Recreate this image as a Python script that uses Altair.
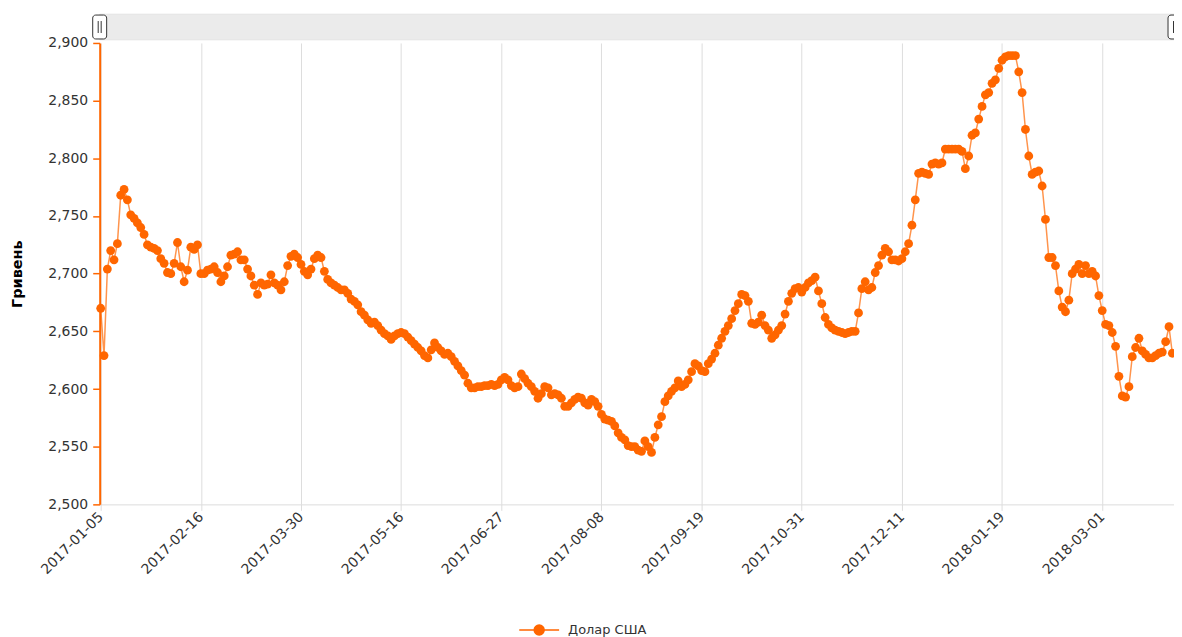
import json
import altair as alt
import pandas as pd

# ---------------- data ----------------
series_name = "Долар США"
y_title = "Гривень"
tick_step = 30
x_tick_labels = ["2017-01-05", "2017-02-16", "2017-03-30", "2017-05-16", "2017-06-27",
                 "2017-08-08", "2017-09-19", "2017-10-31", "2017-12-11", "2018-01-19",
                 "2018-03-01"]
y_ticks = [2.50, 2.55, 2.60, 2.65, 2.70, 2.75, 2.80, 2.85, 2.90]

usd_part1 = [2.670, 2.629, 2.704, 2.720, 2.712, 2.726, 2.768, 2.773, 2.764, 2.751,
             2.748, 2.744, 2.740, 2.734, 2.725, 2.723, 2.722, 2.720, 2.713, 2.709,
             2.701, 2.700, 2.709, 2.727, 2.706, 2.693, 2.703, 2.723, 2.721, 2.725]
usd_part2 = [2.700, 2.700, 2.703, 2.704, 2.706, 2.701, 2.693, 2.698, 2.706, 2.716,
             2.717, 2.719, 2.712, 2.712, 2.704, 2.698, 2.690, 2.682, 2.692, 2.690,
             2.691, 2.699, 2.692, 2.690, 2.686, 2.693, 2.707, 2.715, 2.717, 2.714,
             2.708]
usd_part3 = [2.702, 2.699, 2.704, 2.713, 2.716, 2.714, 2.702, 2.695, 2.692, 2.690,
             2.688, 2.686, 2.686, 2.683, 2.678, 2.676, 2.673, 2.667, 2.664, 2.660,
             2.657]
usd_part4 = [2.658, 2.655, 2.651, 2.648, 2.646, 2.643, 2.646, 2.648, 2.649, 2.648,
             2.645, 2.642, 2.639, 2.636, 2.633, 2.629, 2.627, 2.634, 2.640, 2.636,
             2.633, 2.630, 2.631, 2.628, 2.624, 2.620, 2.616, 2.612, 2.605, 2.601,
             2.601, 2.602, 2.602, 2.603, 2.603, 2.604, 2.603, 2.604, 2.608, 2.610,
             2.608, 2.603, 2.601]
usd_part5 = [2.602, 2.613, 2.609, 2.605, 2.602, 2.598, 2.592, 2.596, 2.602, 2.601,
             2.595, 2.596, 2.595, 2.592, 2.585, 2.585, 2.588, 2.591, 2.593, 2.592,
             2.588, 2.586, 2.591, 2.589, 2.585, 2.578, 2.574, 2.573, 2.572, 2.568,
             2.562, 2.558, 2.556, 2.551, 2.550, 2.550, 2.547, 2.546, 2.555, 2.550,
             2.545, 2.558, 2.569]
usd_part6 = [2.576, 2.589, 2.594, 2.598, 2.601, 2.607, 2.602, 2.604, 2.608, 2.615,
             2.622, 2.620, 2.616, 2.615, 2.622, 2.626, 2.631, 2.638, 2.644, 2.650,
             2.655, 2.661, 2.668, 2.674, 2.682, 2.681, 2.676, 2.657, 2.656, 2.658,
             2.664, 2.655, 2.651, 2.644, 2.647, 2.651, 2.655, 2.665, 2.676, 2.683,
             2.687]
usd_part7 = [2.688, 2.684, 2.688, 2.692, 2.694, 2.697, 2.685, 2.674, 2.662, 2.656,
             2.653, 2.651, 2.650, 2.649, 2.648, 2.649, 2.650, 2.650, 2.666, 2.687,
             2.693, 2.686, 2.688, 2.701, 2.707, 2.716, 2.722, 2.719, 2.712, 2.712,
             2.711, 2.713, 2.719, 2.726, 2.742, 2.764]
usd_part8 = [2.787, 2.788, 2.787, 2.786, 2.795, 2.796, 2.795, 2.796, 2.808, 2.808,
             2.808, 2.808, 2.808, 2.806, 2.791, 2.802, 2.820, 2.822, 2.834, 2.845,
             2.855, 2.857, 2.865, 2.868, 2.878, 2.885, 2.888, 2.889, 2.889, 2.889,
             2.875, 2.857, 2.825, 2.802, 2.786, 2.788, 2.789, 2.776, 2.747, 2.714,
             2.714, 2.707, 2.685, 2.671, 2.667, 2.677, 2.700, 2.704, 2.708, 2.700,
             2.707, 2.700, 2.702, 2.698, 2.681, 2.668, 2.656, 2.655, 2.649, 2.637,
             2.611, 2.594, 2.593, 2.602, 2.628, 2.636, 2.644, 2.633, 2.630, 2.627,
             2.627, 2.629, 2.631, 2.632, 2.641, 2.654, 2.631]

usd = (usd_part1 + usd_part2 + usd_part3 + usd_part4 + usd_part5 +
       usd_part6 + usd_part7 + usd_part8)

df = pd.DataFrame({
    "idx": list(range(len(usd))),
    "rate": usd,
    "series": [series_name] * len(usd),
})

# ---------------- style ----------------
ORANGE = "#FF6600"
FONT = "DejaVu Sans"
W, H = 1078, 463

x_label_expr = json.dumps(x_tick_labels) + "[round(datum.value / %d)]" % tick_step

x_enc = alt.X(
    "idx:Q",
    scale=alt.Scale(domain=[-0.3, 321.5], nice=False, zero=False),
    axis=alt.Axis(
        values=[i * tick_step for i in range(len(x_tick_labels))],
        labelExpr=x_label_expr,
        labelAngle=-45, labelAlign="right", labelBaseline="middle",
        labelPadding=4, labelFont=FONT, labelFontSize=14, labelColor="#333333",
        labelOverlap=False, labelFlush=False,
        grid=True, gridColor="#dddddd", gridWidth=1,
        domainColor="#dddddd", tickColor="#dddddd", tickSize=6,
        title=None,
    ),
)

y_enc = alt.Y(
    "rate:Q",
    scale=alt.Scale(domain=[2.5, 2.9], nice=False, zero=False),
    axis=alt.Axis(
        values=y_ticks,
        labelExpr="replace(format(datum.value, '.3f'), '.', ',')",
        grid=False,
        domainColor=ORANGE, domainWidth=2,
        tickColor=ORANGE, tickSize=7, tickWidth=1.5,
        labelFont=FONT, labelFontSize=14, labelColor="#333333", labelPadding=5,
        labelFlush=False, labelOverlap=False,
        title=y_title, titleFont=FONT, titleFontSize=14.5, titleFontWeight="bold",
        titleColor="#000000", titleAngle=-90, titleX=-82, titleY=H / 2,
        titleAlign="center", titleBaseline="middle",
    ),
)

legend_path = ("M-1,0L1,0M-0.25,0a0.25,0.25 0 1,0 0.5,0"
               "a0.25,0.25 0 1,0 -0.5,0")

color_enc = alt.Color(
    "series:N",
    scale=alt.Scale(domain=[series_name], range=[ORANGE]),
    legend=alt.Legend(
        orient="none", legendX=420, legendY=568, title=None,
        symbolType=legend_path, symbolSize=1600, symbolStrokeWidth=1.5,
        symbolFillColor=ORANGE, symbolStrokeColor=ORANGE, symbolOpacity=1,
        labelFont=FONT, labelFontSize=13, labelColor="#333333",
        labelOffset=8, padding=0,
    ),
)

base = alt.Chart(df).encode(x=x_enc, y=y_enc)

line = base.mark_line(color=ORANGE, strokeWidth=1.5, opacity=0.7)
points = base.mark_circle(size=78, opacity=1).encode(color=color_enc)

# scrollbar decoration at the top
one = pd.DataFrame({"k": [0]})
sb_band = alt.Chart(one).mark_rect(fill="#ebebeb", stroke="#dddddd", strokeWidth=0.5).encode(
    x=alt.value(0), x2=alt.value(W + 4), y=alt.value(-29), y2=alt.value(-3))
sb_left = alt.Chart(one).mark_rect(fill="white", stroke="#333333", strokeWidth=1,
                                   cornerRadius=3).encode(
    x=alt.value(-7), x2=alt.value(7), y=alt.value(-28), y2=alt.value(-4))
sb_right = alt.Chart(one).mark_rect(fill="white", stroke="#333333", strokeWidth=1,
                                    cornerRadius=3).encode(
    x=alt.value(W - 6), x2=alt.value(W + 8), y=alt.value(-28), y2=alt.value(-4))
grip_l1 = alt.Chart(one).mark_rule(color="#333333", strokeWidth=1).encode(
    x=alt.value(-1.5), y=alt.value(-22), y2=alt.value(-10))
grip_l2 = alt.Chart(one).mark_rule(color="#333333", strokeWidth=1).encode(
    x=alt.value(1.5), y=alt.value(-22), y2=alt.value(-10))
grip_r1 = alt.Chart(one).mark_rule(color="#333333", strokeWidth=1).encode(
    x=alt.value(W - 0.5), y=alt.value(-22), y2=alt.value(-10))
grip_r2 = alt.Chart(one).mark_rule(color="#333333", strokeWidth=1).encode(
    x=alt.value(W + 2.5), y=alt.value(-22), y2=alt.value(-10))

chart = alt.layer(
    sb_band, sb_left, sb_right, grip_l1, grip_l2, grip_r1, grip_r2,
    line, points,
).properties(
    width=W, height=H,
    autosize=alt.AutoSizeParams(type="none"),
    padding={"left": 92, "top": 34, "right": 0, "bottom": 132},
    background="white",
).configure_view(stroke=None)

chart.save("out.html", embed_options={"renderer": "svg", "actions": False})
